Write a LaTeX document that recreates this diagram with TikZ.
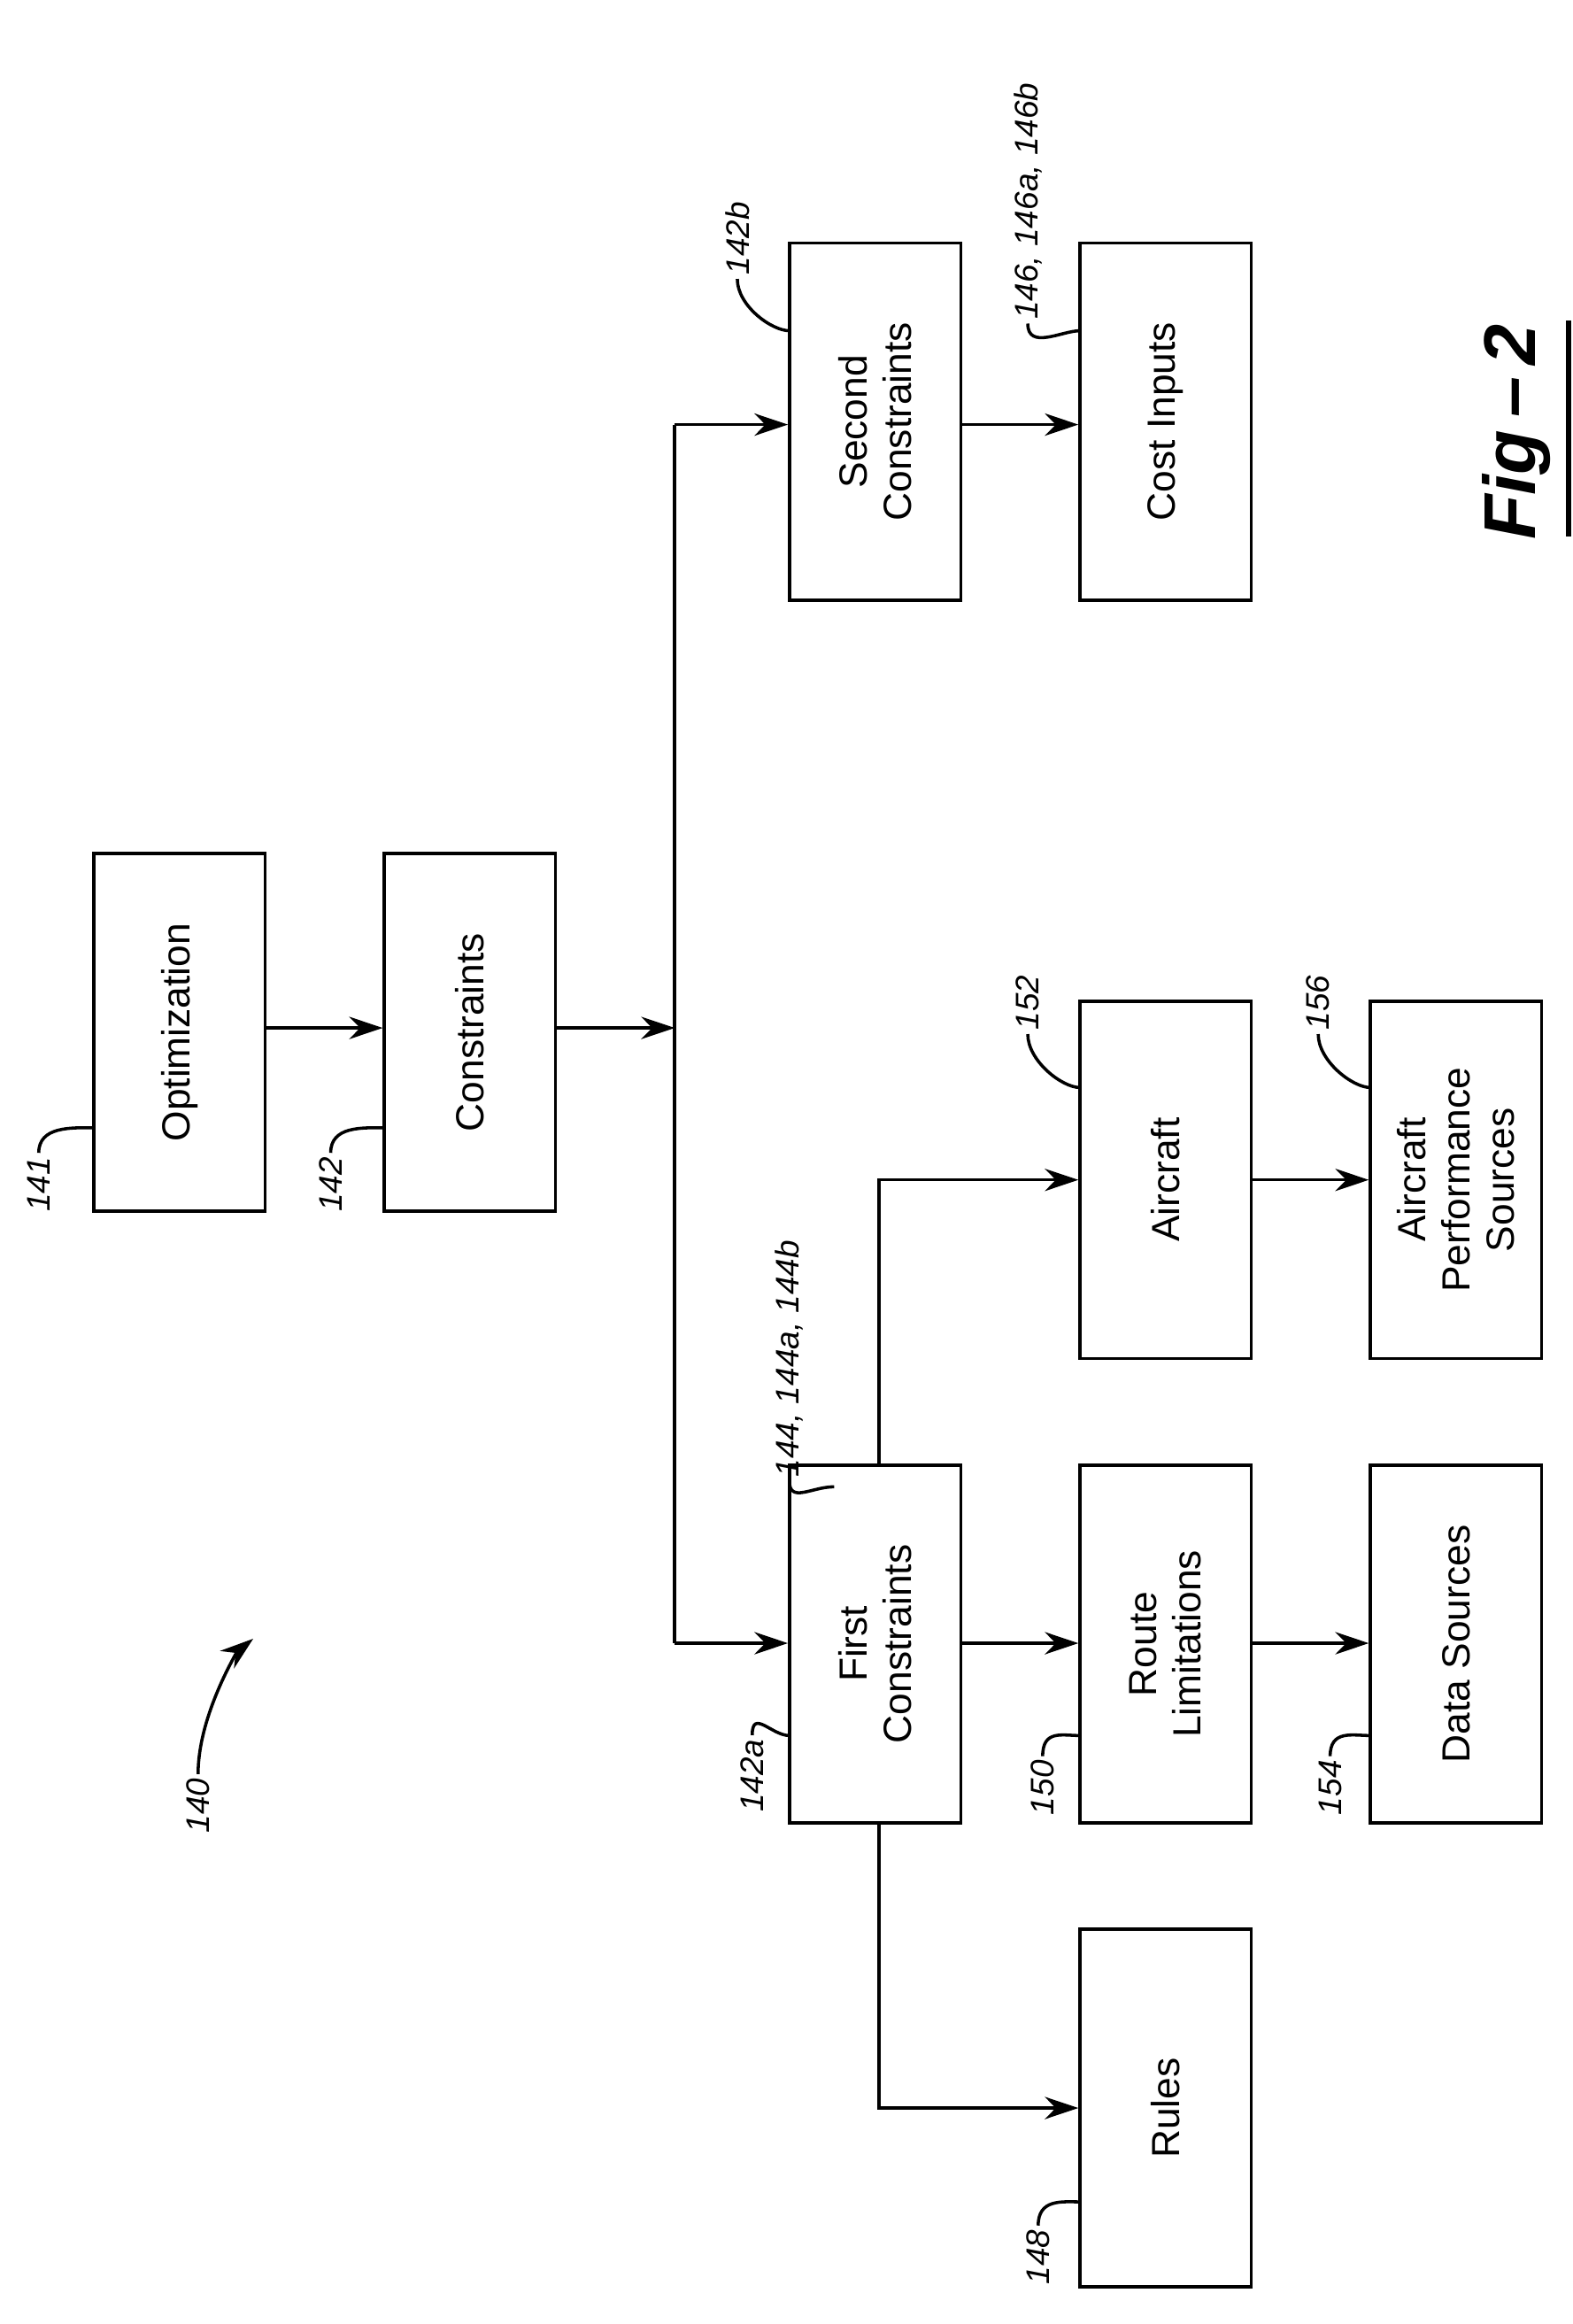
\documentclass[tikz,border=0pt]{standalone}
\usepackage{fontspec}
\setmainfont{Liberation Sans}
\usetikzlibrary{arrows.meta}
\begin{document}
\begin{tikzpicture}[x=0.02cm,y=-0.02cm,line width=1.2pt,
  box/.style={draw,line width=1.2pt,rotate=90,minimum width=4.8cm,minimum height=2.3cm,align=center,font=\fontsize{15}{17}\selectfont,inner sep=0pt},
  arr/.style={-{Stealth[length=0.45cm,width=0.3cm]}},
  lab/.style={rotate=90,font=\fontsize{12.5}{15}\selectfont\itshape,inner sep=1pt}]
\useasboundingbox (0,0) rectangle (1056,1560);
\node[box] (opt) at (120.5,693) {Optimization};
\node[box] (con) at (315.5,693) {Constraints};
\node[box] (sec) at (587.5,283) {Second\\Constraints};
\node[box] (cost) at (782.5,283) {Cost Inputs};
\node[box] (first) at (587.5,1103.5) {First\\Constraints};
\node[box] (air) at (782.5,792) {Aircraft};
\node[box] (route) at (782.5,1103.5) {Route\\Limitations};
\node[box] (aps) at (977.5,792) {Aircraft\\Performance\\Sources};
\node[box] (data) at (977.5,1103.5) {Data Sources};
\node[box] (rules) at (782.5,1415) {Rules};
\coordinate (j) at (453,690);
\coordinate (jt) at (453,285);
\coordinate (jb) at (453,1103);
\coordinate (ft) at (590,792);
\coordinate (fb) at (590,1415);
\draw[arr] (opt.south |- 0,690) -- (con.north |- 0,690);
\draw[arr] (con.south |- 0,690) -- (j);
\draw (jt) -- (jb);
\draw[arr] (jt) -- (sec.north |- jt);
\draw[arr] (jb) -- (first.north |- jb);
\draw[arr] (sec.south |- 0,285) -- (cost.north |- 0,285);
\draw[arr] (first.south |- 0,1103) -- (route.north |- 0,1103);
\draw[arr] (route.south |- 0,1103) -- (data.north |- 0,1103);
\draw[arr] (first.east -| 590,0) -- (ft) -- (air.north |- ft);
\draw[arr] (air.south |- ft) -- (aps.north |- ft);
\draw[arr] (first.west -| 590,0) -- (fb) -- (rules.north |- fb);
% labels
\node[lab] (l141) at (26,795) {141};
\draw (l141.east) .. controls +(0,-18) and +(-15,0) .. (63,757);
\node[lab] (l142) at (222,795) {142};
\draw (l142.east) .. controls +(0,-18) and +(-15,0) .. (258,757);
\node[lab] (l142a) at (505,1192) {142a};
\draw (l142a.east) .. controls +(0,-18) and +(-12,0) .. (530,1165);
\node[lab] (l150) at (700,1200) {150};
\draw (l150.east) .. controls +(0,-18) and +(-12,0) .. (725,1165);
\node[lab] (l154) at (893,1200) {154};
\draw (l154.east) .. controls +(0,-18) and +(-12,0) .. (920,1165);
\node[lab] (l148) at (697,1515) {148};
\draw (l148.east) .. controls +(0,-18) and +(-12,0) .. (725,1478);
\node[lab] (l142b) at (495,160) {142b};
\draw (l142b.west) .. controls +(0,18) and +(-12,0) .. (530,222);
\node[lab] (l146) at (690,135) {146, 146a, 146b};
\draw (l146.west) .. controls +(0,18) and +(-12,0) .. (725,222);
\node[lab] (l152) at (690,673) {152};
\draw (l152.west) .. controls +(0,18) and +(-12,0) .. (725,730);
\node[lab] (l156) at (885,673) {156};
\draw (l156.west) .. controls +(0,18) and +(-12,0) .. (920,730);
\node[lab] (l144) at (530,912) {144, 144a, 144b};
\draw (l144.west) .. controls +(0,15) and +(-15,0) .. (560,998);
\node[lab] (l140) at (133,1212) {140};
\draw[arr] (l140.east) .. controls +(0,-40) and +(-10,8) .. (170,1100);
\node[rotate=90,font=\fontsize{28}{32}\selectfont\bfseries\itshape,inner sep=0pt] (fig) at (1018,290) {Fig\,–\,2};
\draw[line width=2.2pt] (1053,215) -- (1053,360);
\end{tikzpicture}
\end{document}
